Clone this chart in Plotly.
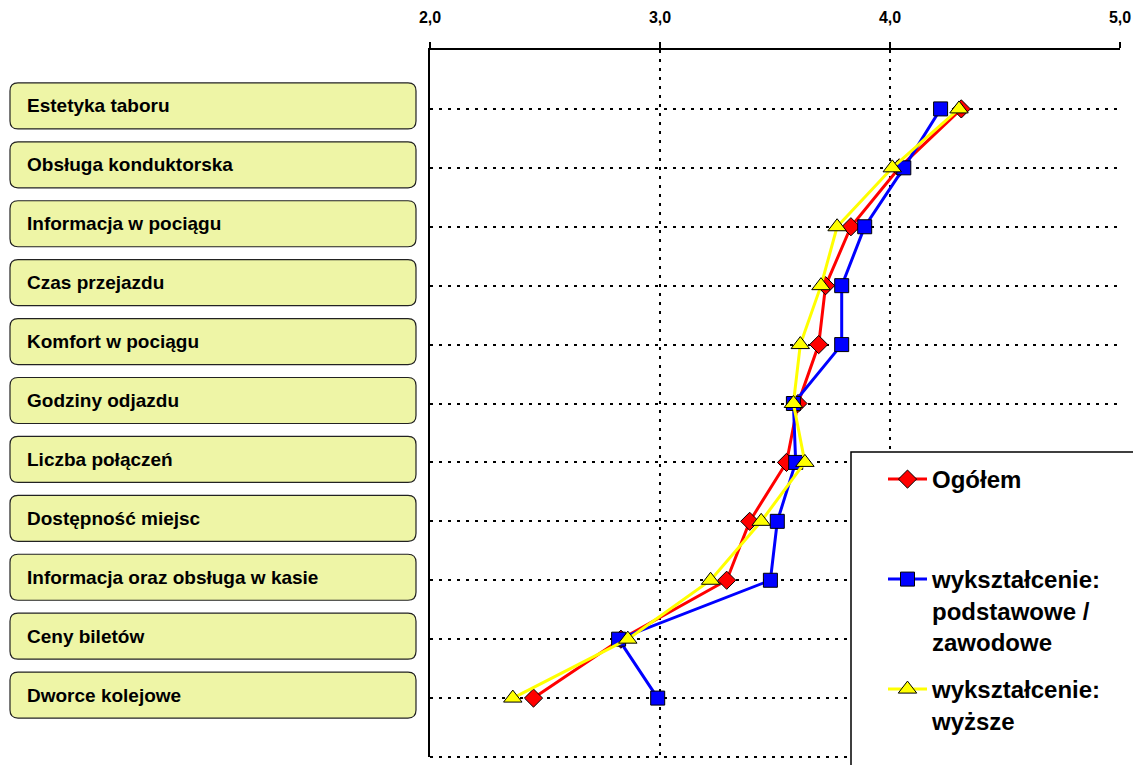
import plotly.graph_objects as go

# Ocena poszczególnych aspektów przejazdu (skala 1-5)
categories = [
    "Estetyka taboru",
    "Obsługa konduktorska",
    "Informacja w pociągu",
    "Czas przejazdu",
    "Komfort w pociągu",
    "Godziny odjazdu",
    "Liczba połączeń",
    "Dostępność miejsc",
    "Informacja oraz obsługa w kasie",
    "Ceny biletów",
    "Dworce kolejowe",
]

ogolem = [4.31, 4.04, 3.83, 3.72, 3.69, 3.60, 3.55, 3.39, 3.29, 2.83, 2.45]
podstawowe = [4.22, 4.06, 3.89, 3.79, 3.79, 3.58, 3.59, 3.51, 3.48, 2.82, 2.99]
wyzsze = [4.30, 4.01, 3.77, 3.70, 3.61, 3.58, 3.63, 3.44, 3.22, 2.86, 2.36]

series_names = [
    "Ogółem",
    "wykształcenie:<br>podstawowe /<br>zawodowe",
    "wykształcenie:<br>wyższe",
]

x_ticks = [2, 3, 4, 5]

positions = list(range(1, len(categories) + 1))

W, H = 1133, 765
ML, MR, MT, MB = 430, 13, 50, 8
plot_w = W - ML - MR
plot_h = H - MT - MB
n_slots = len(categories) + 1
slot_px = plot_h / n_slots


def px_x(px):
    return (px - ML) / plot_w


def px_y(py):
    return (MT + plot_h - py) / plot_h


fig = go.Figure()

styles = [
    dict(color="#FF0000", symbol="diamond", size=14),
    dict(color="#0000FF", symbol="square", size=14),
    dict(color="#FFFF00", symbol="triangle-up", size=16),
]
legend_ids = ["legend", "legend2", "legend3"]

for name, vals, st, lg in zip(series_names, [ogolem, podstawowe, wyzsze], styles, legend_ids):
    fig.add_trace(go.Scatter(
        x=vals,
        y=positions,
        mode="lines+markers",
        name=name,
        legend=lg,
        line=dict(color=st["color"], width=3),
        marker=dict(symbol=st["symbol"], size=st["size"], color=st["color"],
                    line=dict(color="#000000", width=1)),
        hoverinfo="x+y",
    ))

dotted = "3px,6px"

fig.update_xaxes(
    side="top",
    range=[2, 5],
    tickvals=x_ticks,
    tickformat=".1f",
    showgrid=True,
    gridcolor="#000000",
    gridwidth=2,
    griddash=dotted,
    showline=True,
    linecolor="#000000",
    linewidth=2,
    ticks="outside",
    ticklen=6,
    tickwidth=2,
    tickcolor="#000000",
    tickfont=dict(family="Liberation Sans, Arial", size=16, color="#000000", weight="bold"),
    ticklabelstandoff=13,
    zeroline=False,
    automargin=False,
    fixedrange=True,
)

fig.update_yaxes(
    range=[n_slots, 0],
    tickvals=list(range(1, n_slots)),
    showticklabels=False,
    showgrid=True,
    gridcolor="#000000",
    gridwidth=2,
    griddash=dotted,
    showline=True,
    linecolor="#000000",
    linewidth=2,
    ticks="",
    zeroline=False,
    automargin=False,
    fixedrange=True,
)

# Etykiety kategorii w zaokrąglonych ramkach po lewej stronie
box_x0 = px_x(10)
box_x1 = px_x(416)
half_h = 23 / slot_px
rx = 8 / plot_w
ry = 8 / slot_px
lift = 3 / slot_px
shapes = []
annotations = []
for pos, label in zip(positions, categories):
    y0, y1 = pos - half_h - lift, pos + half_h - lift
    path = (
        f"M {box_x0 + rx},{y0} L {box_x1 - rx},{y0} Q {box_x1},{y0} {box_x1},{y0 + ry} "
        f"L {box_x1},{y1 - ry} Q {box_x1},{y1} {box_x1 - rx},{y1} "
        f"L {box_x0 + rx},{y1} Q {box_x0},{y1} {box_x0},{y1 - ry} "
        f"L {box_x0},{y0 + ry} Q {box_x0},{y0} {box_x0 + rx},{y0} Z"
    )
    shapes.append(dict(
        type="path", path=path, xref="paper", yref="y",
        fillcolor="#EEF5A6", line=dict(color="#222222", width=1.2), layer="above",
    ))
    annotations.append(dict(
        x=px_x(25), y=pos - lift, xref="paper", yref="y",
        text=label, showarrow=False, xanchor="left", yanchor="middle",
        font=dict(family="Liberation Sans, Arial", size=19, color="#000000", weight="bold"),
    ))

# Dolna krawędź obszaru wykresu (kropkowana)
shapes.append(dict(
    type="line", xref="paper", yref="paper", x0=0, x1=1, y0=0, y1=0,
    line=dict(color="#000000", width=2, dash=dotted), layer="below",
))

# Tło ramki legendy
shapes.append(dict(
    type="rect", xref="paper", yref="paper",
    x0=px_x(851), x1=1.05,
    y0=-0.05, y1=px_y(452),
    fillcolor="#FFFFFF", line=dict(color="#000000", width=1.5), layer="above",
))

legend_font = dict(family="Liberation Sans, Arial", size=24, color="#000000", weight="bold")
legend_tops = [457, 557, 667]
legend_layout = {}
for lg, top in zip(legend_ids, legend_tops):
    legend_layout[lg] = dict(
        x=px_x(883),
        y=px_y(top),
        xanchor="left",
        yanchor="top",
        bgcolor="rgba(0,0,0,0)",
        borderwidth=0,
        valign="top",
        itemwidth=39,
        font=legend_font,
    )

fig.update_layout(
    width=W,
    height=H,
    margin=dict(l=ML, r=MR, t=MT, b=MB, autoexpand=False),
    paper_bgcolor="#FFFFFF",
    plot_bgcolor="#FFFFFF",
    separators=",.",
    shapes=shapes,
    annotations=annotations,
    showlegend=True,
    **legend_layout,
)

fig.write_html("out.html")
